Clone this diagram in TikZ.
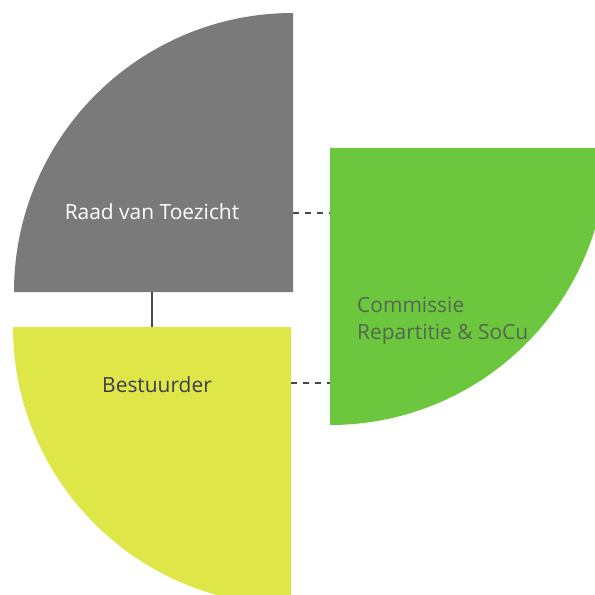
\documentclass[tikz,border=0pt]{standalone}
\usepackage{fontspec}
\setmainfont{Open Sans}
\usetikzlibrary{positioning}
\definecolor{raadgray}{RGB}{121,122,121}
\definecolor{bestyellow}{RGB}{222,230,72}
\definecolor{comgreen}{RGB}{108,198,62}
\definecolor{linegray}{RGB}{70,72,76}
\definecolor{darktext}{RGB}{58,62,78}
\definecolor{comtextcol}{RGB}{84,104,80}

\begin{document}
\begin{tikzpicture}[x=1bp, y=-1bp,
  quartertext/.style={font=\fontsize{21}{27}\selectfont, inner sep=0pt},
  link/.style={draw=linegray, line width=1.4bp},
  dashlink/.style={link, dash pattern=on 6bp off 6bp}]
  \useasboundingbox (0,0) rectangle (595,595);
  \clip (0,0) rectangle (595,595);

  % quarters
  \fill[raadgray] (293,292) -- (14,292) arc[start angle=180, end angle=270, radius=279] -- cycle;
  \fill[bestyellow] (291,327) -- (13,327) arc[start angle=180, end angle=90, radius=278] -- cycle;
  \fill[comgreen] (330,148) -- (607,148) arc[start angle=0, end angle=90, radius=277] -- cycle;

  % labels
  \node[quartertext, text=white] (raad) at (152,212) {Raad van Toezicht};
  \node[quartertext, text=darktext] (bestuurder) at (157,385) {Bestuurder};
  \node[quartertext, text=comtextcol, anchor=west, align=left] (commissie) at (357,321) {Commissie\\Repartitie \& SoCu};

  % connectors
  \coordinate (raadbottom) at (152,292);
  \coordinate (besttop) at (152,327);
  \coordinate (raadright) at (293,213);
  \coordinate (bestright) at (291,383);
  \coordinate (comtop) at (330,213);
  \coordinate (combottom) at (330,383);

  \draw[link] (raadbottom) -- (besttop);
  \draw[dashlink] (raadright) -- (comtop);
  \draw[dashlink] (bestright) -- (combottom);
\end{tikzpicture}
\end{document}
